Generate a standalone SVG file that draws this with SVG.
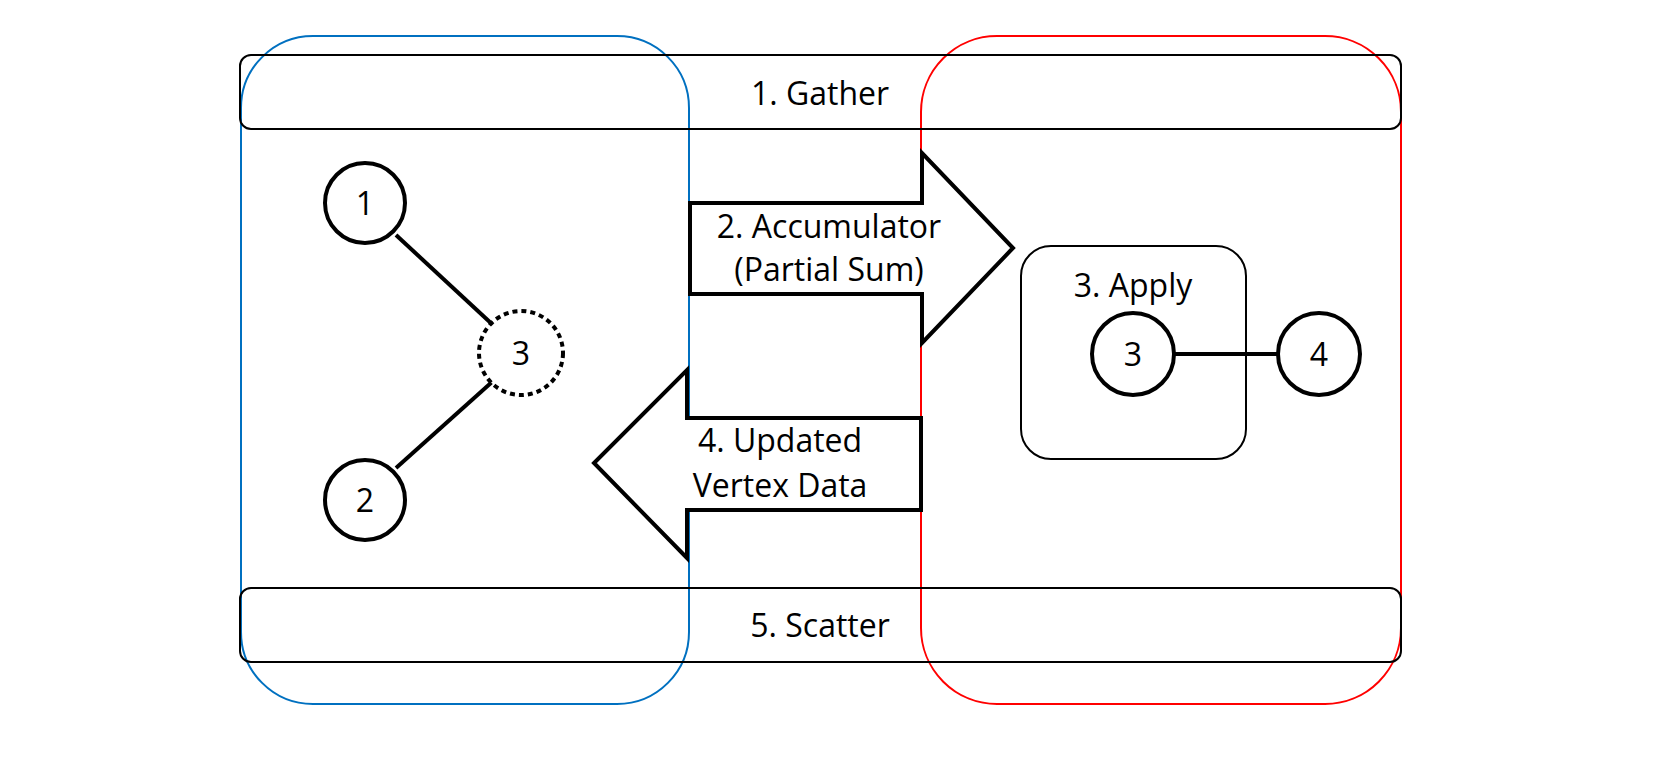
<svg xmlns="http://www.w3.org/2000/svg" width="1676" height="777" viewBox="0 0 1676 777">
<style>
text{font-family:"Open Sans","Noto Sans","DejaVu Sans",sans-serif;fill:#000;text-anchor:middle}
.lbl{font-size:32px}
.num{font-size:32px}
.bar{fill:none;stroke:#000;stroke-width:2}
.node{fill:#fff;stroke:#000;stroke-width:4}
.edge{stroke:#000;stroke-width:4;fill:none}
.arrow{fill:#fff;stroke:#000;stroke-width:4;stroke-linejoin:miter}
</style>
<rect width="1676" height="777" fill="#fff"/>
<g id="region-left"><rect x="241" y="36" width="448" height="668" rx="72" ry="72" fill="none" stroke="#0070C0" stroke-width="2"/></g>
<g id="region-right"><rect x="921" y="36" width="480" height="668" rx="76" ry="76" fill="none" stroke="#FF0000" stroke-width="2"/></g>
<g id="gather"><rect class="bar" x="240" y="55" width="1161" height="74" rx="11"/><text class="lbl" x="820" y="105">1. Gather</text></g>
<g id="scatter"><rect class="bar" x="240" y="588" width="1161" height="74" rx="11"/><text class="lbl" x="820" y="637">5. Scatter</text></g>
<g id="connectors">
<line class="edge" x1="396" y1="235" x2="493" y2="325"/>
<line class="edge" x1="492" y1="382" x2="396" y2="468"/>
<line class="edge" x1="1175" y1="354" x2="1278" y2="354"/>
</g>
<g id="accumulator"><path class="arrow" d="M690 203 H922 V153 L1013 248 L922 343 V294 H690 Z"/><text class="lbl" x="829" y="238">2. Accumulator</text><text class="lbl" x="829" y="281">(Partial Sum)</text></g>
<g id="updated"><path class="arrow" d="M921 418 H687 V370 L594 463 L687 558 V510 H921 Z"/><text class="lbl" x="780" y="452">4. Updated</text><text class="lbl" x="780" y="497">Vertex Data</text></g>
<g id="apply"><rect x="1021" y="246" width="225" height="213" rx="30" fill="none" stroke="#000" stroke-width="2"/><text class="lbl" x="1133" y="297">3. Apply</text></g>
<g id="v1"><circle class="node" cx="365" cy="203" r="40"/><text class="num" x="365" y="215">1</text></g>
<g id="v2"><circle class="node" cx="365" cy="500" r="40"/><text class="num" x="365" y="512">2</text></g>
<g id="v3ghost"><circle class="node" cx="521" cy="353" r="42" stroke-dasharray="5 4"/><text class="num" x="521" y="365">3</text></g>
<g id="v3"><circle class="node" cx="1133" cy="354" r="41"/><text class="num" x="1133" y="366">3</text></g>
<g id="v4"><circle class="node" cx="1319" cy="354" r="41"/><text class="num" x="1319" y="366">4</text></g>
</svg>
